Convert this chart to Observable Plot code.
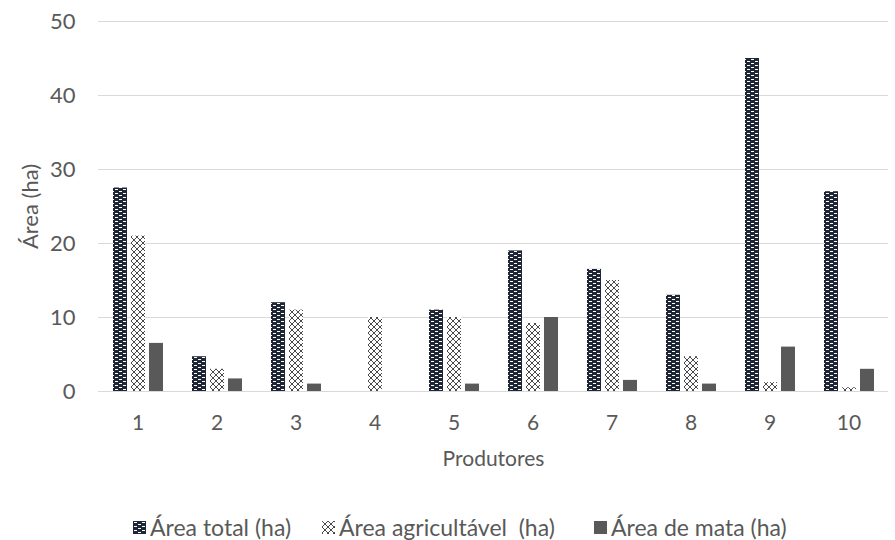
<!DOCTYPE html>
<html>
<head>
<meta charset="utf-8">
<script src="https://cdn.jsdelivr.net/npm/d3@7"></script>
<script src="https://cdn.jsdelivr.net/npm/@observablehq/plot@0.6"></script>
<style>
  body { margin: 0; background: #fff; font-family: Lato, "Open Sans", sans-serif; }
  #legend { position: relative; width: 895px; height: 50px; font-family: Lato, sans-serif; font-size: 23px; color: #595959; }
  .item { position: absolute; top: 24px; display: flex; align-items: center; white-space: pre; line-height: 27px; }
  .item svg { margin-right: 4px; }
</style>
</head>
<body>
<svg width="0" height="0" style="position:absolute">
  <defs>
    <pattern id="p1" width="8" height="4" patternUnits="userSpaceOnUse">
      <rect width="8" height="4" fill="#1f2737"/>
      <rect x="1" y="1" width="3" height="1" fill="#ffffff"/>
      <rect x="5" y="3" width="3" height="1" fill="#ffffff"/>
    </pattern>
    <pattern id="p2" width="6" height="6" patternUnits="userSpaceOnUse">
      <rect width="6" height="6" fill="#ffffff"/>
      <path d="M0,0L6,6M6,0L0,6" stroke="#4a4a4a" stroke-width="1"/>
    </pattern>
  </defs>
</svg>
<div id="chart"></div>
<div id="legend"></div>
<script>
const producers = ["1","2","3","4","5","6","7","8","9","10"];
const series = ["Área total (ha)", "Área agricultável  (ha)", "Área de mata (ha)"];
const areaTotal = [27.5, 4.7, 12, 0, 11, 19, 16.5, 13, 45, 27];
const areaAgricultavel = [21, 3, 11, 10, 10, 9.2, 15, 4.7, 1.2, 0.5];
const areaMata = [6.5, 1.7, 1, 0, 1, 10, 1.5, 1, 6, 3];
const yTicks = [0, 10, 20, 30, 40, 50];
const fills = ["url(#p1)", "url(#p2)", "#595959"];

const data = [];
producers.forEach((p, i) => {
  data.push({prod: p, serie: series[0], v: areaTotal[i]});
  data.push({prod: p, serie: series[1], v: areaAgricultavel[i]});
  data.push({prod: p, serie: series[2], v: areaMata[i]});
});

const chart = Plot.plot({
  width: 895,
  height: 490,
  marginTop: 21,
  marginBottom: 99,
  marginLeft: 96,
  marginRight: 5,
  style: {fontFamily: "Lato, sans-serif", fontSize: "21px", color: "#595959"},
  fx: {domain: producers, padding: 0, label: "Produtores"},
  x: {domain: series, axis: null, paddingInner: 0.24, paddingOuter: 0.76},
  y: {domain: [0, 50], label: "Área (ha)"},
  color: {domain: series, range: fills},
  marks: [
    Plot.ruleY(yTicks, {stroke: "#d9d9d9", strokeWidth: 1}),
    Plot.barY(data, {fx: "prod", x: "serie", y: "v", fill: "serie"}),
    Plot.axisY(yTicks, {tickSize: 0, tickPadding: 23, label: "Área (ha)", labelAnchor: "center", labelArrow: "none", labelOffset: 76, fill: "#595959", fontSize: 22}),
    Plot.axisFx({anchor: "bottom", tickSize: 0, tickPadding: 24, label: "Produtores", labelAnchor: "center", labelArrow: "none", labelOffset: 74, fill: "#595959", fontSize: 21})
  ]
});
document.getElementById("chart").appendChild(chart);

const legend = document.getElementById("legend");
const lx = [133, 322, 594];
series.forEach((s, i) => {
  const item = document.createElement("div");
  item.className = "item";
  item.style.left = lx[i] + "px";
  item.innerHTML = `<svg width="13" height="13"><rect width="13" height="13" fill="${fills[i]}"/></svg><span>${s}</span>`;
  legend.appendChild(item);
});
</script>
</body>
</html>
